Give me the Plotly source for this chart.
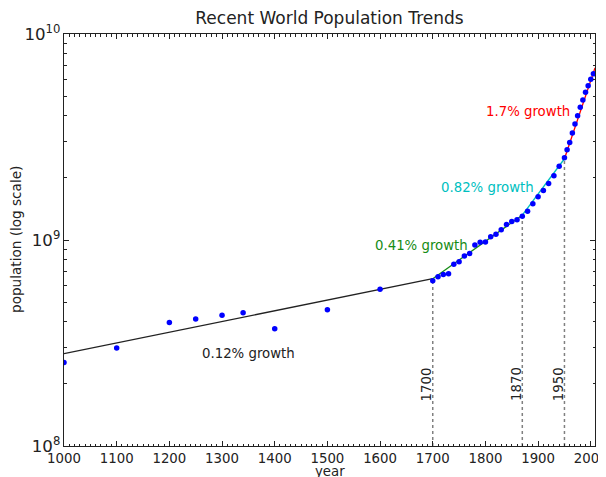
import plotly.graph_objects as go

# ---- data ----
years = [1000, 1100, 1200, 1250, 1300, 1340, 1400, 1500, 1600,
         1700, 1710, 1720, 1730, 1740, 1750, 1760, 1770, 1780, 1790,
         1800, 1810, 1820, 1830, 1840, 1850, 1860, 1870, 1880, 1890,
         1900, 1910, 1920, 1930, 1940, 1950, 1955, 1960, 1965, 1970,
         1975, 1980, 1985, 1990, 1995, 2000, 2005]
population = [254e6, 299e6, 398e6, 414e6, 431e6, 443e6, 371e6, 459e6, 577e6,
              634e6, 664e6, 680e6, 686e6, 763e6, 785e6, 836e6, 859e6, 946e6, 975e6,
              978e6, 1037e6, 1067e6, 1122e6, 1190e6, 1230e6, 1255e6, 1303e6, 1380e6, 1500e6,
              1620e6, 1740e6, 1880e6, 2050e6, 2280e6, 2510e6, 2740e6, 2970e6, 3310e6, 3660e6,
              4010e6, 4410e6, 4780e6, 5210e6, 5610e6, 6030e6, 6410e6]

# fitted exponential segments (start/end year and value)
seg_start_year = [1000, 1700, 1870, 1950]
seg_end_year = [1700, 1870, 1950, 2008]
seg_start_pop = [2.81e8, 6.49e8, 1.32e9, 2.48e9]
seg_end_pop = [6.49e8, 1.32e9, 2.48e9, 6.85e9]
seg_labels = ["0.12% growth", "0.41% growth", "0.82% growth", "1.7% growth"]
seg_colors = ["#222222", "#168c16", "#00bfbf", "#ff0000"]
label_year = [1351, 1678, 1803, 1881]
label_log = [8.451, 8.971, 9.257, 9.626]

# break years
break_years = [1700, 1870, 1950]
break_tops = [6.49e8, 1.32e9, 2.48e9]
break_label_log = 8.30

xtick_vals = list(range(1000, 2001, 100))

FONT = "DejaVu Sans"
TXT = "#222222"

fig = go.Figure()

for i in range(len(seg_start_year)):
    fig.add_trace(go.Scatter(
        x=[seg_start_year[i], seg_end_year[i]],
        y=[seg_start_pop[i], seg_end_pop[i]],
        mode="lines", line=dict(color=seg_colors[i], width=1.3),
        showlegend=False, hoverinfo="skip"))

for yr, top in zip(break_years, break_tops):
    fig.add_trace(go.Scatter(
        x=[yr, yr], y=[1e8, top], mode="lines",
        line=dict(color="#808080", width=1.5, dash="dot"),
        showlegend=False, hoverinfo="skip"))

fig.add_trace(go.Scatter(
    x=years, y=population, mode="markers",
    marker=dict(color="#0000ff", size=5.5, line=dict(width=0)),
    showlegend=False))

annotations = []
for txt, c, xv, yv in zip(seg_labels, seg_colors, label_year, label_log):
    annotations.append(dict(x=xv, y=yv, xref="x", yref="y", text=txt,
                            showarrow=False, font=dict(family=FONT, size=13.3, color=c),
                            xanchor="center", yanchor="middle"))
for yr in break_years:
    annotations.append(dict(x=yr, y=break_label_log, xref="x", yref="y", text=str(yr),
                            showarrow=False, textangle=-90, xshift=-6.5,
                            font=dict(family=FONT, size=13.3, color=TXT),
                            xanchor="center", yanchor="middle"))
annotations.append(dict(x=0, y=0.5, xref="paper", yref="paper", text="population (log scale)",
                        showarrow=False, textangle=-90, xshift=-48,
                        font=dict(family=FONT, size=13.6, color=TXT),
                        xanchor="center", yanchor="middle"))
annotations.append(dict(x=0.5, y=0, xref="paper", yref="paper", text="year",
                        showarrow=False, yshift=-25,
                        font=dict(family=FONT, size=13.3, color=TXT),
                        xanchor="center", yanchor="middle"))

# page body has an 8px margin, so the figure is sized/offset to compensate
W, H = 598, 469
fig.update_layout(
    width=W, height=H,
    margin=dict(l=56, r=11, t=26, b=31, autoexpand=False),
    paper_bgcolor="white", plot_bgcolor="white",
    title=dict(text="Recent World Population Trends", x=0.5, xref="paper",
               y=1 - 10 / H, yanchor="middle", xanchor="center",
               font=dict(family=FONT, size=17, color=TXT)),
    annotations=annotations,
    font=dict(family=FONT, size=13.3, color=TXT),
)
fig.update_xaxes(
    range=[1000, 2008], tickvals=xtick_vals, ticks="inside", ticklen=5,
    tickcolor="#222", showline=True, linecolor="#222", linewidth=1, mirror="ticks",
    showgrid=False, zeroline=False, ticklabeloverflow="allow", automargin=False,
    tickfont=dict(family=FONT, size=13.3, color=TXT),
    minor=dict(ticks="inside", dtick=10, tick0=1000, ticklen=2.5, tickcolor="#222", showgrid=False),
)
fig.update_yaxes(
    type="log", range=[8, 10], dtick=1, exponentformat="power",
    ticks="inside", ticklen=5, tickcolor="#222",
    showline=True, linecolor="#222", linewidth=1, mirror="ticks",
    showgrid=False, zeroline=False, ticklabeloverflow="allow", automargin=False,
    tickfont=dict(family=FONT, size=13.3, color=TXT),
    minor=dict(ticks="inside", dtick="D1", ticklen=2.5, tickcolor="#222", showgrid=False),
)

fig.write_html("out.html")
